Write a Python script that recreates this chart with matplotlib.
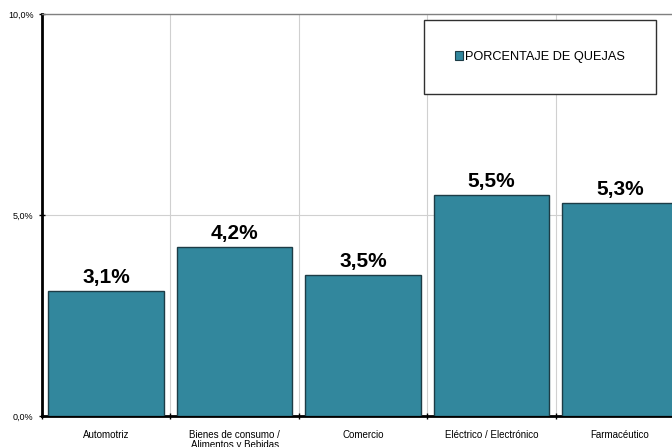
import numpy as np
import matplotlib.pyplot as plt
from matplotlib.patches import Patch
from matplotlib.ticker import FixedLocator

sectores = ['Automotriz', 'Bienes de consumo /\nAlimentos y Bebidas', 'Comercio',
            'Eléctrico / Electrónico', 'Farmacéutico']
quejas = [3.1, 4.2, 3.5, 5.5, 5.3]
yticks = [0, 5, 10]
ytick_labels = ['0,0%', '5,0%', '10,0%']

plt.rcParams['font.family'] = ['Liberation Sans', 'DejaVu Sans']

fig = plt.figure(figsize=(6.72, 4.47), dpi=100)
# the last category runs past the right edge of the figure
ax = fig.add_axes([42 / 672, 31 / 447, 642 / 672, 402 / 447])

x = np.arange(len(sectores))
bars = ax.bar(x, quejas, width=0.9, color='#32879d', edgecolor='#1d3c46', linewidth=1, zorder=3)

for xi, v in zip(x, quejas):
    ax.text(xi, v + 0.1, f'{v:.1f}%'.replace('.', ','), ha='center', va='bottom',
            fontsize=15, fontweight='bold', zorder=4)

ax.set_xlim(-0.5, len(sectores) - 0.5)
ax.set_ylim(0, 10)
ax.set_yticks(yticks)
ax.set_yticklabels(ytick_labels, fontsize=6.5)
ax.set_xticks(x)
ax.set_xticklabels(sectores, fontsize=7, linespacing=1.05)
ax.tick_params(axis='x', length=0, pad=10)
ax.xaxis.set_minor_locator(FixedLocator(np.arange(len(sectores) + 1) - 0.5))
ax.tick_params(axis='x', which='minor', length=4, width=1, direction='inout')
ax.tick_params(axis='y', length=4, width=1, direction='inout', pad=4)

ax.grid(axis='x', which='minor', color='#d0d0d0', linewidth=0.8, zorder=0)
ax.grid(axis='y', which='major', color='#d0d0d0', linewidth=0.8, zorder=0)

ax.spines['left'].set_linewidth(2)
ax.spines['bottom'].set_linewidth(2)
ax.spines['top'].set_color('#808080')
ax.spines['top'].set_linewidth(1)
ax.spines['right'].set_color('#808080')

handle = Patch(facecolor='#32879d', edgecolor='#1d3c46', linewidth=0.8)
leg = fig.legend([handle], ['PORCENTAJE DE QUEJAS'], loc='center',
                 bbox_to_anchor=(540 / 672, 1 - 57 / 447), fontsize=9.2,
                 fancybox=False, edgecolor='#303030', framealpha=1,
                 handlelength=0.6, handleheight=0.6, handletextpad=0.2,
                 borderpad=2.4, borderaxespad=0)
leg.get_frame().set_linewidth(1)

fig.savefig('out.png', dpi=100)
